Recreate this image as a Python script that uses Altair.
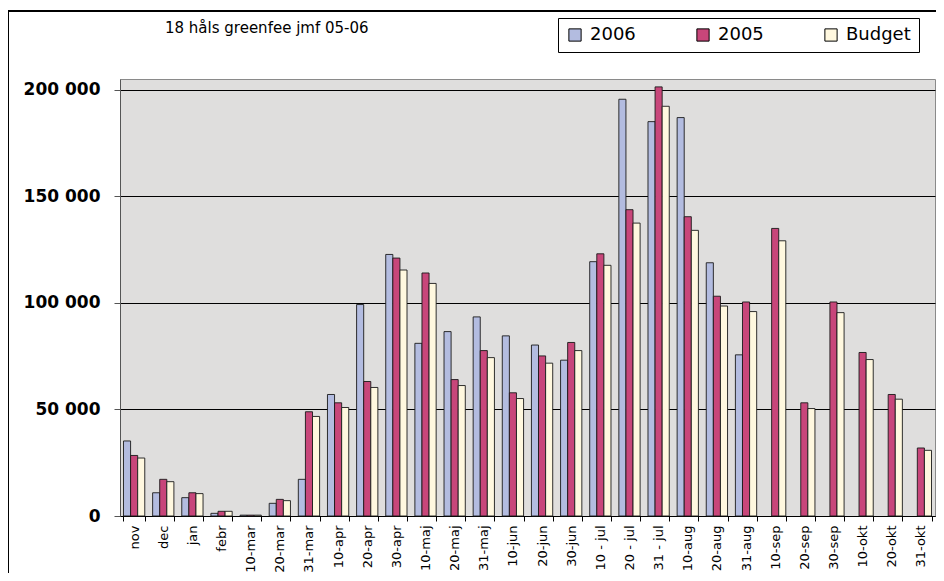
import altair as alt
import pandas as pd

categories = ["nov", "dec", "jan", "febr", "10-mar", "20-mar", "31-mar", "10-apr",
              "20-apr", "30-apr", "10-maj", "20-maj", "31-maj", "10-jun", "20-jun",
              "30-jun", "10 - jul", "20 - jul", "31 - jul", "10-aug", "20-aug",
              "31-aug", "10-sep", "20-sep", "30-sep", "10-okt", "20-okt", "31-okt"]

v2006 = [35200, 10900, 8600, 1250, 400, 5950, 17200, 57000, 99200, 122700,
         81000, 86500, 93400, 84500, 80200, 73100, 119300, 195500, 185000,
         186900, 118800, 75600, None, None, None, None, None, None]
v2005 = [28400, 17200, 10900, 2200, 400, 7800, 48900, 53100, 63100, 121000,
         114000, 64000, 77600, 57800, 75100, 81400, 123000, 143700, 201300,
         140400, 103100, 100400, 134900, 53100, 100400, 76700, 57000, 31900]
vbudget = [27200, 16100, 10500, 2200, 400, 7200, 46700, 50900, 60300, 115400,
           109100, 61200, 74300, 55100, 71700, 77600, 117600, 137400, 192200,
           134000, 98500, 95900, 129100, 50400, 95400, 73400, 54800, 30800]

series_names = ["2006", "2005", "Budget"]
series_colors = ["#B3BCE0", "#C8467A", "#FFF8DF"]

rows = []
for name, vals in zip(series_names, [v2006, v2005, vbudget]):
    for c, v in zip(categories, vals):
        if v is not None:
            rows.append({"period": c, "series": name, "value": v})
df = pd.DataFrame(rows)

W, H = 815, 437

bars = alt.Chart(df).mark_bar(stroke="#1a1a1a", strokeWidth=0.9).encode(
    x=alt.X("period:N", sort=categories, title=None,
            scale=alt.Scale(paddingInner=0.27, paddingOuter=0.12),
            axis=alt.Axis(labelAngle=-90, labelFontSize=13, labelFont="DejaVu Sans",
                          labelColor="#000", tickBand="extent", tickSize=5,
                          tickColor="#000", domainColor="#000", labelPadding=4,
                          grid=False)),
    xOffset=alt.XOffset("series:N", sort=series_names),
    y=alt.Y("value:Q", title=None,
            scale=alt.Scale(domain=[0, 205000], nice=False),
            axis=alt.Axis(values=[0, 50000, 100000, 150000, 200000],
                          labelExpr="replace(format(datum.value, ','), ',', ' ')",
                          labelFontSize=17, labelFontWeight="bold",
                          labelFont="DejaVu Sans", labelColor="#000",
                          tickSize=6, tickColor="#555", domainColor="#555",
                          labelPadding=14, grid=True, gridColor="#000",
                          gridWidth=1)),
    color=alt.Color("series:N", sort=series_names,
                    scale=alt.Scale(domain=series_names, range=series_colors),
                    legend=alt.Legend(title=None, orient="none", direction="horizontal",
                                      legendX=438, legendY=-61,
                                      symbolType="square", symbolSize=150,
                                      symbolStrokeColor="#000", symbolStrokeWidth=1,
                                      labelFontSize=18, labelFont="DejaVu Sans",
                                      labelColor="#000", columnPadding=58,
                                      symbolOffset=0, labelOffset=6,
                                      padding=8, strokeColor="#000",
                                      fillColor="#fff")),
)

frame_left = alt.Chart(df).mark_rule(color="#000", strokeWidth=1).encode(
    x=alt.value(-111.5), y=alt.value(-68), y2=alt.value(H + 80))
frame_top = alt.Chart(df).mark_rule(color="#000", strokeWidth=1).encode(
    x=alt.value(-111.5), x2=alt.value(W + 20), y=alt.value(-68))

chart = alt.layer(frame_left, frame_top, bars).properties(
    width=W, height=H,
    title=alt.TitleParams("18 håls greenfee jmf 05-06", anchor="start", dx=157,
                          fontSize=15, fontWeight="normal", font="DejaVu Sans",
                          color="#000", offset=-25),
    autosize=alt.AutoSizeParams(type="none"),
    padding={"left": 112, "top": 71, "right": 1, "bottom": 57},
    background="#ffffff",
).configure_view(fill="#DFDEDD", stroke="#8a8a8a", strokeWidth=1)

chart.save("out.html", embed_options={"renderer": "svg", "actions": False})
